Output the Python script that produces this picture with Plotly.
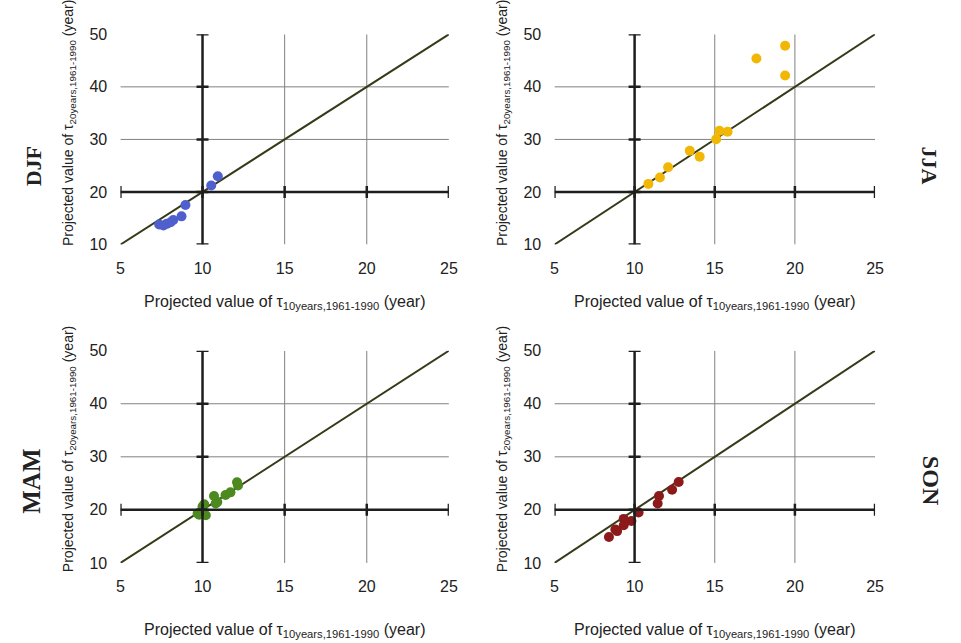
import plotly.graph_objects as go

# ---------------- data ----------------
djf_x = [10.93, 10.53, 8.96, 8.72, 8.22, 8.06, 7.82, 7.62, 7.36]
djf_y = [23.0, 21.24, 17.54, 15.37, 14.69, 14.26, 13.94, 13.65, 13.83]

jja_x = [10.86, 11.58, 12.09, 13.44, 14.06, 15.09, 15.29, 15.80, 17.6, 19.39, 19.39]
jja_y = [21.54, 22.75, 24.71, 27.83, 26.73, 30.04, 31.63, 31.45, 45.4, 47.83, 42.15]

mam_x = [12.10, 12.16, 11.70, 11.40, 10.90, 10.70, 10.80, 10.10, 10.0, 9.8, 10.2, 9.7]
mam_y = [25.2, 24.6, 23.3, 22.8, 21.5, 22.6, 21.2, 21.05, 20.6, 19.1, 19.0, 19.3]

son_x = [12.75, 12.34, 11.52, 11.44, 10.25, 9.80, 9.32, 9.32, 8.91, 8.80, 8.40]
son_y = [25.27, 23.8, 22.6, 21.2, 19.5, 17.9, 18.3, 17.1, 16.0, 16.3, 14.9]

seasons = ["DJF", "JJA", "MAM", "SON"]
colors = ["#4f5fce", "#f2b705", "#4c8a1f", "#8c1a1a"]

x_ticks = [5, 10, 15, 20, 25]
y_ticks = [10, 20, 30, 40, 50]
x_grid = [15, 20]
y_grid = [30, 40]
x_cross = 10   # where the y axis crosses
y_cross = 20   # where the x axis crosses
ratio = 2      # reference line y = 2x

x_title = "Projected value of τ<sub>10years,1961-1990</sub> (year)"
y_title = "Projected value of τ<sub>20years,1961-1990</sub> (year)"

# ---------------- layout ----------------
W, H = 961, 643
xdoms = [(118 / W, 451 / W), (558 / W, 883 / W)]
ydoms = [(1 - 243 / H, 1 - 27 / H), (1 - 570 / H, 1 - 352 / H)]

panels = [  # (season index, col, row)
    (0, 0, 0), (1, 1, 0), (2, 0, 1), (3, 1, 1)
]
series = [(djf_x, djf_y), (jja_x, jja_y), (mam_x, mam_y), (son_x, son_y)]

fig = go.Figure()
shapes = []
annotations = []
FAM = "Liberation Sans, Arial, sans-serif"
TICKFONT = dict(family=FAM, size=16, color="#222")
TITLEFONT = dict(family=FAM, size=16, color="#222")
SEASONFONT = dict(family="Liberation Serif, Times New Roman, serif", size=22, color="#222")
AXC = "#1e1e1e"
GRIDC = "#808080"

season_pos = {0: (30, 163, -90, 22), 1: (938, 162, 90, 22), 2: (28, 486, -90, 25), 3: (940, 486, 90, 24)}

for k, (si, col, row) in enumerate(panels):
    n = k + 1
    xa = "x" if n == 1 else f"x{n}"
    ya = "y" if n == 1 else f"y{n}"
    xkey = "xaxis" if n == 1 else f"xaxis{n}"
    ykey = "yaxis" if n == 1 else f"yaxis{n}"
    fig.update_layout(**{
        xkey: dict(domain=list(xdoms[col]), anchor=ya, range=[x_ticks[0], x_ticks[-1]],
                   tickvals=x_ticks, showgrid=False, zeroline=False, showline=False,
                   ticks="outside", ticklen=9, tickcolor="rgba(0,0,0,0)",
                   tickfont=TICKFONT, fixedrange=True),
        ykey: dict(domain=list(ydoms[row]), anchor=xa, range=[y_ticks[0], y_ticks[-1]],
                   tickvals=y_ticks, showgrid=False, zeroline=False, showline=False,
                   ticks="outside", ticklen=9, tickcolor="rgba(0,0,0,0)",
                   tickfont=TICKFONT, fixedrange=True),
    })
    # reference line y = 2x
    lx = [x_ticks[0], x_ticks[-1]]
    fig.add_trace(go.Scatter(x=lx, y=[ratio * v for v in lx], xaxis=xa, yaxis=ya, mode="lines",
                             line=dict(color="#353a18", width=2), showlegend=False, hoverinfo="skip"))
    sx, sy = series[si]
    fig.add_trace(go.Scatter(x=sx, y=sy, xaxis=xa, yaxis=ya, mode="markers",
                             marker=dict(color=colors[si], size=10, line=dict(width=0)),
                             showlegend=False, name=seasons[si]))
    # grid lines
    for g in x_grid:
        shapes.append(dict(type="line", xref=xa, yref=ya, x0=g, x1=g, y0=y_ticks[0], y1=y_ticks[-1],
                           line=dict(color=GRIDC, width=1), layer="below"))
    for g in y_grid:
        shapes.append(dict(type="line", xref=xa, yref=ya, y0=g, y1=g, x0=x_ticks[0], x1=x_ticks[-1],
                           line=dict(color=GRIDC, width=1), layer="below"))
    # crossing axes
    shapes.append(dict(type="line", xref=xa, yref=ya, x0=x_ticks[0], x1=x_ticks[-1], y0=y_cross, y1=y_cross,
                       line=dict(color=AXC, width=2.5)))
    shapes.append(dict(type="line", xref=xa, yref=ya, x0=x_cross, x1=x_cross, y0=y_ticks[0], y1=y_ticks[-1],
                       line=dict(color=AXC, width=2.5)))
    for t in x_ticks:
        shapes.append(dict(type="line", xref=xa, yref=ya, ysizemode="pixel", yanchor=y_cross,
                           x0=t, x1=t, y0=-6, y1=6, line=dict(color=AXC, width=2.5)))
    for t in y_ticks:
        shapes.append(dict(type="line", xref=xa, yref=ya, xsizemode="pixel", xanchor=x_cross,
                           y0=t, y1=t, x0=-6, x1=6, line=dict(color=AXC, width=2.5)))
    # axis titles
    if row == 0:
        annotations.append(dict(text=x_title, xref=f"{xa} domain", yref="paper", x=0.5, y=1 - 302 / H,
                                showarrow=False, font=TITLEFONT, xanchor="center", yanchor="middle"))
    else:
        annotations.append(dict(text=x_title, xref=f"{xa} domain", yref="paper", x=0.5, y=0,
                                yshift=-8, showarrow=False, font=TITLEFONT, xanchor="center", yanchor="bottom"))
    xpix = 66 if col == 0 else 506
    ypix_c = 118 if row == 0 else 453
    annotations.append(dict(text=y_title, xref="paper", yref="paper", x=xpix / W, y=1 - ypix_c / H,
                            showarrow=False, font=dict(TITLEFONT, size=14), textangle=-90,
                            xanchor="center", yanchor="middle"))
    px_, py_, ang, fs = season_pos[si]
    annotations.append(dict(text=f"<b>{seasons[si]}</b>", xref="paper", yref="paper", x=px_ / W, y=1 - py_ / H,
                            showarrow=False, font=dict(SEASONFONT, size=fs), textangle=ang,
                            xanchor="center", yanchor="middle"))

fig.update_layout(width=W, height=H, margin=dict(l=0, r=0, t=0, b=0),
                  paper_bgcolor="white", plot_bgcolor="white",
                  shapes=shapes, annotations=annotations)

fig.write_html("out.html")
